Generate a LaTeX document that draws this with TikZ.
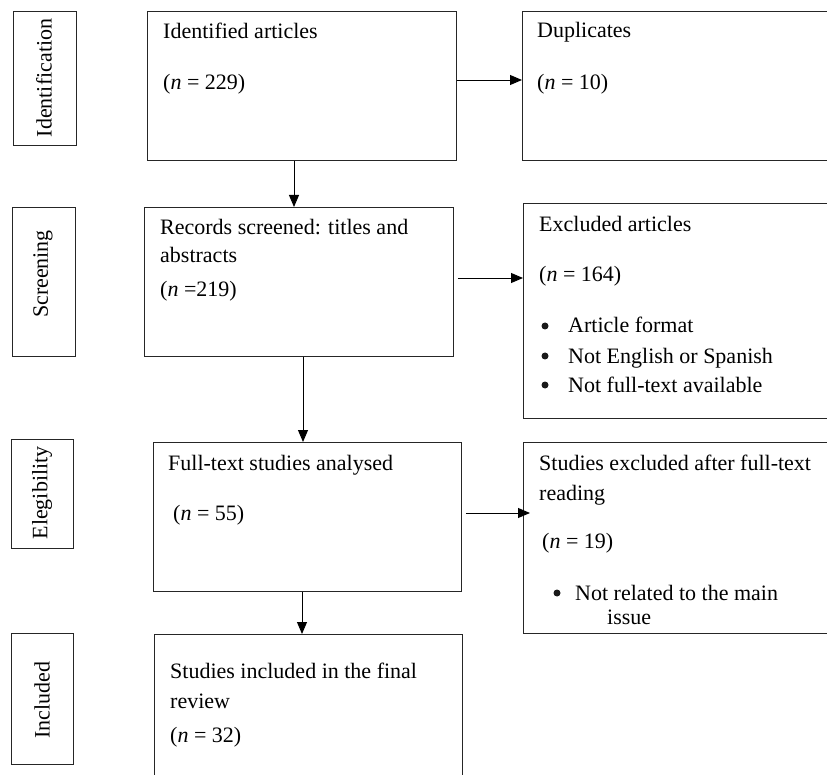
\documentclass[tikz,border=0pt]{standalone}
\usepackage{fontspec}
\setmainfont{Liberation Serif}
\usetikzlibrary{arrows.meta}
\begin{document}
\begin{tikzpicture}[x=1pt,y=-1pt,
  box/.style={draw=black!85, line width=0.8pt, rectangle, inner sep=0pt, anchor=north west},
  txt/.style={anchor=base west, inner sep=0pt, font=\fontsize{22}{26}\selectfont},
  bul/.style={circle, fill=black!90, inner sep=0pt, minimum size=7pt},
  side/.style={font=\fontsize{22}{26}\selectfont, rotate=90, inner sep=0pt},
  arr/.style={draw=black, line width=0.9pt, -{Triangle[length=12pt,width=10pt]}}]
\useasboundingbox (0,0) rectangle (827,775);
\clip (0,0) rectangle (827,775);
% side labels
\node[box, minimum width=63pt, minimum height=134pt] (sideI) at (13,11) {};
\node[box, minimum width=63pt, minimum height=149pt] (sideS) at (12,207) {};
\node[box, minimum width=62pt, minimum height=109pt] (sideE) at (11,439) {};
\node[box, minimum width=62pt, minimum height=131pt] (sideN) at (11,633) {};
\node[side] (tI) at (44,78) {Identification};
\node[side] (tS) at (43,274) {Screening};
\node[side] (tE) at (42,493) {Elegibility};
\node[side] (tN) at (42,700) {Included};
% main boxes
\node[box, minimum width=309pt, minimum height=149pt] (idb) at (147,11) {};
\node[box, minimum width=320pt, minimum height=149pt] (dup) at (522,11) {};
\node[box, minimum width=309pt, minimum height=149pt] (scr) at (144,207) {};
\node[box, minimum width=320pt, minimum height=215pt] (exc) at (523,203) {};
\node[box, minimum width=308pt, minimum height=149pt] (eli) at (153,442) {};
\node[box, minimum width=320pt, minimum height=191pt] (sex) at (523,442) {};
\node[box, minimum width=308pt, minimum height=160pt] (inc) at (154,634) {};
% texts
\node[txt] (t1a) at (163,39) {Identified articles};
\node[txt] (t1b) at (163,90) {(\textit{n} = 229)};
\node[txt] (t2a) at (537,38) {Duplicates};
\node[txt] (t2b) at (537,90) {(\textit{n} = 10)};
\node[txt] (t3a) at (160,235) {Records screened: titles and};
\node[txt] (t3b) at (160,263) {abstracts};
\node[txt] (t3c) at (160,297) {(\textit{n} =219)};
\node[txt] (t4a) at (539,232) {Excluded articles};
\node[txt] (t4b) at (539,282) {(\textit{n} = 164)};
\node[bul] (b4a) at (545,326) {};
\node[bul] (b4b) at (545,356) {};
\node[bul] (b4c) at (545,385) {};
\node[txt] (t4c) at (568,333) {Article format};
\node[txt] (t4d) at (568,363) {Not English or Spanish};
\node[txt] (t4e) at (568,392) {Not full-text available};
\node[txt] (t5a) at (168,470) {Full-text studies analysed};
\node[txt] (t5b) at (173,520) {(\textit{n} = 55)};
\node[txt] (t6a) at (539,470) {Studies excluded after full-text};
\node[txt] (t6b) at (539,500) {reading};
\node[txt] (t6c) at (542,548) {(\textit{n} = 19)};
\node[bul] (b6a) at (557,593) {};
\node[txt] (t6d) at (575,600) {Not related to the main};
\node[txt] (t6e) at (607,624) {issue};
\node[txt] (t7a) at (170,678) {Studies included in the final};
\node[txt] (t7b) at (170,708) {review};
\node[txt] (t7c) at (170,742) {(\textit{n} = 32)};
% connectors
\coordinate (c1) at (294,0);
\coordinate (c2) at (303,0);
\coordinate (c3) at (302,0);
\coordinate (r1) at (0,80);
\coordinate (r2) at (0,278);
\coordinate (r3) at (0,513);
\draw[arr] (idb.south -| c1) -- (scr.north -| c1);
\draw[arr] (scr.south -| c2) -- (eli.north -| c2);
\draw[arr] (eli.south -| c3) -- (inc.north -| c3);
\draw[arr] (idb.east |- r1) -- (dup.west |- r1);
\draw[arr, shorten <=4pt] (scr.east |- r2) -- (exc.west |- r2);
\draw[arr, shorten <=4pt, shorten >=-7pt] (eli.east |- r3) -- (sex.west |- r3);
\end{tikzpicture}
\end{document}
